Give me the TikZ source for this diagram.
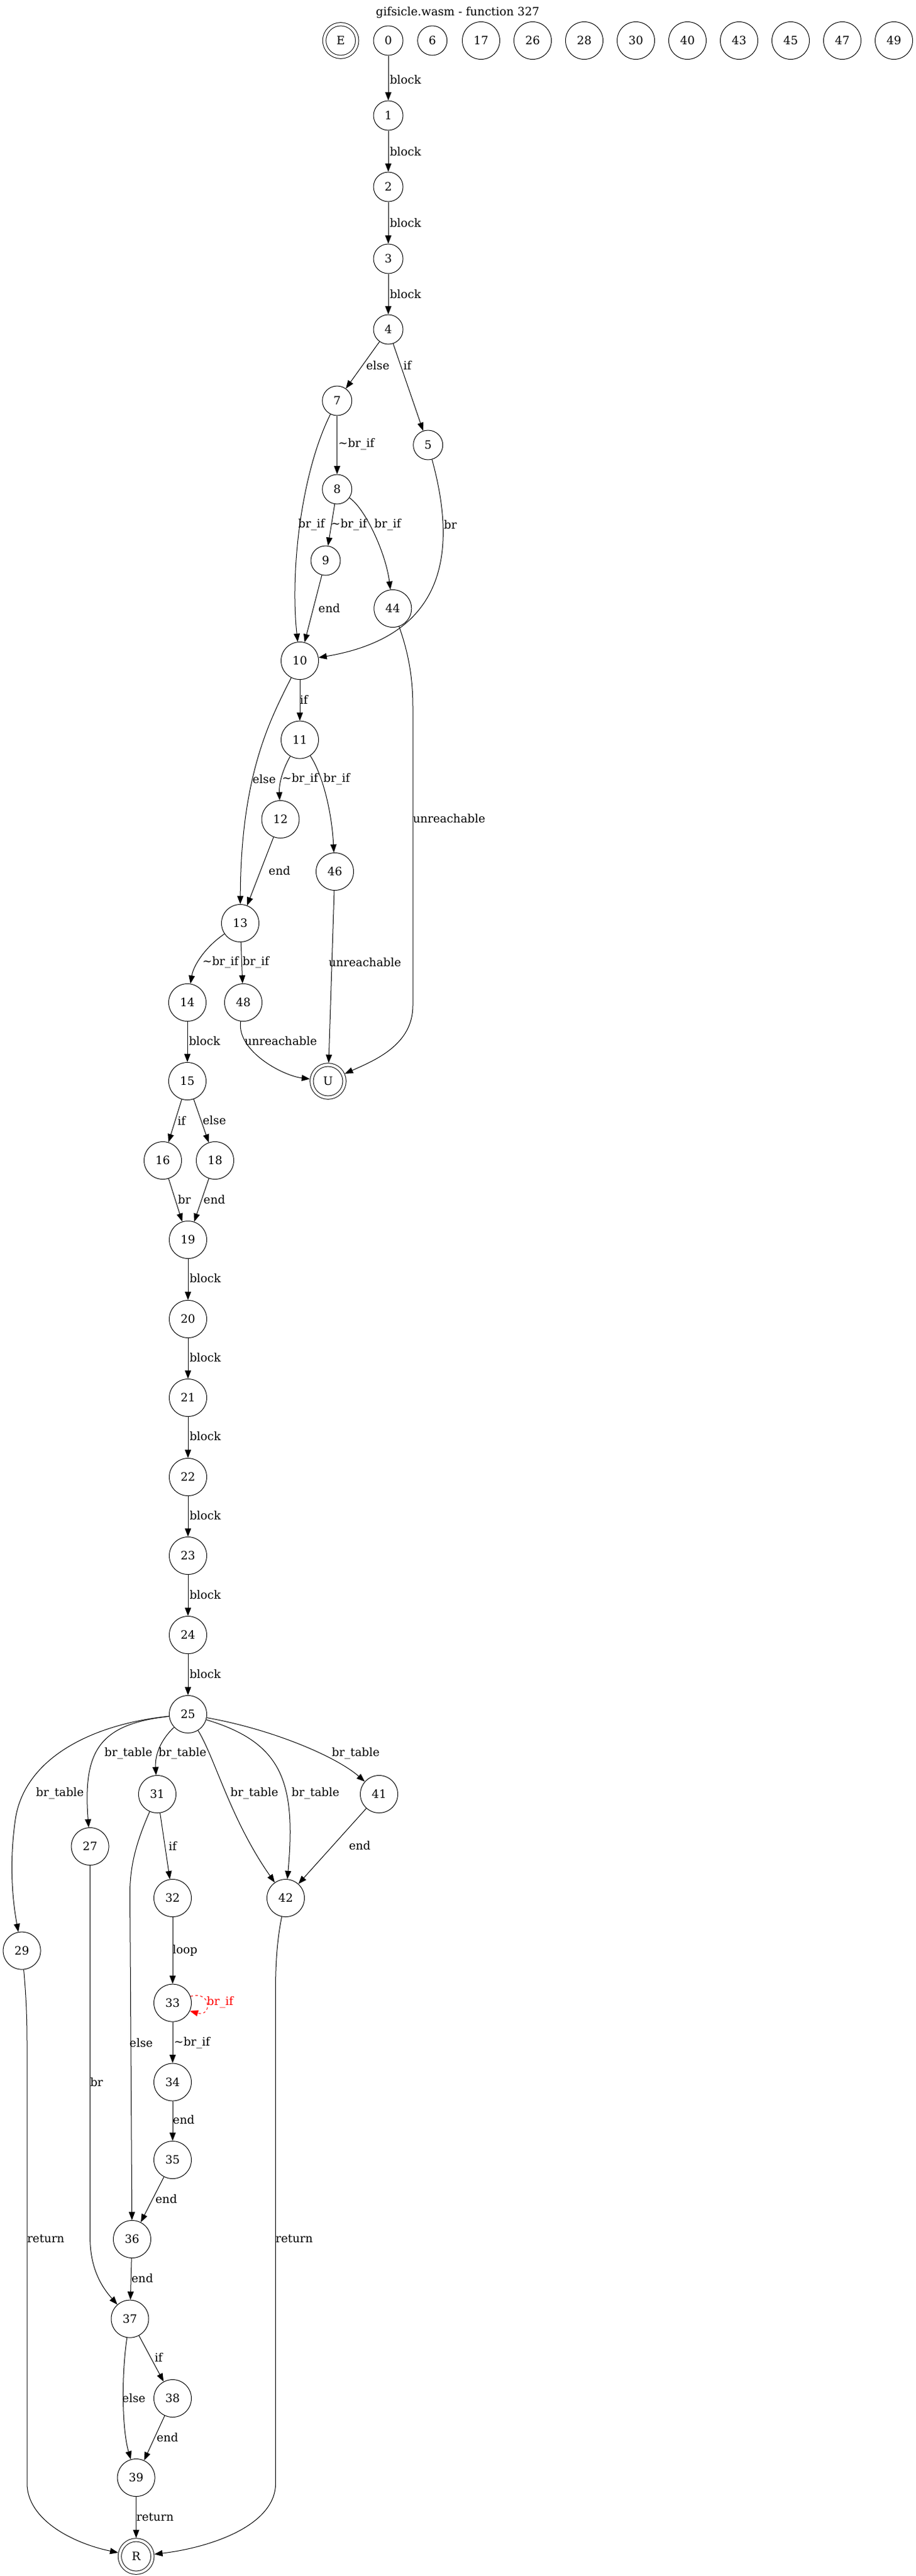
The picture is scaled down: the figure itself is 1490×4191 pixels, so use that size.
\documentclass[tikz,border=0pt]{standalone}
\usepackage{fontspec}
\setmainfont{DejaVu Serif}
\usetikzlibrary{arrows.meta}
\tikzset{
    bb/.style = {
        draw,
        shape=circle,
        minimum size=36pt,
        inner sep=0pt,
        line width=0.75pt,
        font=\fontsize{14}{17}\selectfont
    },
    bbw/.style = {
        bb,
        minimum size=45.75pt
    },
    term/.style = {
        bb,
        double,
        double distance=3.25pt,
        minimum size=40pt,
        outer sep=2.4pt
    },
    lbl/.style = {
        inner sep=0pt,
        font=\fontsize{14}{17}\selectfont
    },
    >={Triangle[length=10pt,width=7.5pt]},
}

\begin{document}
\begin{tikzpicture}[x=0.75pt, y=-0.75pt, line width=0.75pt]
            \path[fill=white, use as bounding box] (0,0) rectangle (1490,4191);
            \node[lbl] (title) at (745,20) {gifsicle.wasm - function 327};

            \node[term] (E) at (554.6,66) {E};
            \node[bb] (n0) at (632,66) {0};
            \node[bb] (n6) at (703.7,66) {6};
            \node[bbw] (n17) at (783,66) {17};
            \node[bbw] (n26) at (867,66) {26};
            \node[bbw] (n28) at (951,66) {28};
            \node[bbw] (n30) at (1035,66) {30};
            \node[bbw] (n40) at (1119,66) {40};
            \node[bbw] (n43) at (1203,66) {43};
            \node[bbw] (n45) at (1287,66) {45};
            \node[bbw] (n47) at (1371,66) {47};
            \node[bbw] (n49) at (1455,66) {49};

            \node[bb] (n1) at (632,188) {1};
            \node[bb] (n2) at (632,304) {2};
            \node[bb] (n3) at (632,421) {3};
            \node[bb] (n4) at (632,536) {4};
            \node[bb] (n7) at (548.7,652) {7};
            \node[bb] (n5) at (696.7,724) {5};
            \node[bb] (n8) at (548.7,796) {8};
            \node[bb] (n9) at (530,912) {9};
            \node[bbw] (n44) at (639.3,990) {44};
            \node[bbw] (n10) at (488,1075) {10};
            \node[bbw] (n11) at (488,1203.6) {11};
            \node[bbw] (n12) at (456.5,1333) {12};
            \node[bbw] (n46) at (545,1418) {46};
            \node[bbw] (n13) at (391,1502) {13};
            \node[bbw] (n14) at (305,1631) {14};
            \node[bbw] (n48) at (396,1631) {48};
            \node[term] (U) at (534,1759) {U};
            \node[bbw] (n15) at (305,1759) {15};
            \node[bbw] (n16) at (265,1888) {16};
            \node[bbw] (n18) at (350,1888) {18};
            \node[bbw] (n19) at (306,2017) {19};
            \node[bbw] (n20) at (306,2146) {20};
            \node[bbw] (n21) at (306,2274) {21};
            \node[bbw] (n22) at (306,2403) {22};
            \node[bbw] (n23) at (306,2531) {23};
            \node[bbw] (n24) at (306,2660) {24};
            \node[bbw] (n25) at (306,2789) {25};
            \node[bbw] (n31) at (256,2919) {31};
            \node[bbw] (n41) at (617,2919) {41};
            \node[bbw] (n27) at (146.6,3004) {27};
            \node[bbw] (n32) at (281,3088) {32};
            \node[bbw] (n42) at (465,3088) {42};
            \node[bbw] (n29) at (35.6,3173.6) {29};
            \node[bbw] (n33) at (281,3258.6) {33};
            \node[bbw] (n34) at (281,3387.5) {34};
            \node[bbw] (n35) at (281,3514) {35};
            \node[bbw] (n36) at (215,3643) {36};
            \node[bbw] (n37) at (211.5,3772.6) {37};
            \node[bbw] (n38) at (281,3902) {38};
            \node[bbw] (n39) at (221.6,4031) {39};
            \node[term] (R) at (221.6,4159) {R};

            \path[draw, ->] (n0) -- (n1);
            \path[draw, ->] (n1) -- (n2);
            \path[draw, ->] (n2) -- (n3);
            \path[draw, ->] (n3) -- (n4);
            \path[draw, ->] (n4) -- (n7);
            \path[draw, ->] (n4) -- (n5);
            \path[draw, ->] (n7) -- (n8);
            \path[draw, ->] (n7) .. controls (490,770) and (472,930) .. (n10);
            \path[draw, ->] (n8) -- (n9);
            \path[draw, ->] (n8) .. controls (595,828) and (628,900) .. (n44);
            \path[draw, ->] (n5) .. controls (745,900) and (725,1035) .. (n10);
            \path[draw, ->] (n9) -- (n10);
            \path[draw, ->] (n44) .. controls (664,1060) and (672,1100) ..
            (672,1150) -- (672,1636) .. controls (672,1700) and (610,1725) .. (U);
            \path[draw, ->] (n10) -- (n11);
            \path[draw, ->] (n10) .. controls (440,1170) and (392,1260) .. (n13);
            \path[draw, ->] (n11) .. controls (460,1252) and (454,1275) .. (n12);
            \path[draw, ->] (n11) .. controls (525,1260) and (540,1320) .. (n46);
            \path[draw, ->] (n12) -- (n13);
            \path[draw, ->] (n46) -- (U);
            \path[draw, ->] (n13) .. controls (335,1540) and (315,1570) .. (n14);
            \path[draw, ->] (n13) -- (n48);
            \path[draw, ->] (n48) .. controls (385,1710) and (460,1750) .. (U);
            \path[draw, ->] (n14) -- (n15);
            \path[draw, ->] (n15) -- (n16);
            \path[draw, ->] (n15) -- (n18);
            \path[draw, ->] (n16) -- (n19);
            \path[draw, ->] (n18) -- (n19);
            \path[draw, ->] (n19) -- (n20);
            \path[draw, ->] (n20) -- (n21);
            \path[draw, ->] (n21) -- (n22);
            \path[draw, ->] (n22) -- (n23);
            \path[draw, ->] (n23) -- (n24);
            \path[draw, ->] (n24) -- (n25);
            \path[draw, ->] (n25) .. controls (150,2805) and (40,2860) ..
            (25,2960) .. controls (15,3030) and (20,3090) .. (n29);
            \path[draw, ->] (n25) .. controls (160,2805) and (135,2850) .. (n27);
            \path[draw, ->] (n25) .. controls (262,2830) and (252,2855) .. (n31);
            \path[draw, ->] (n25) .. controls (350,2860) and (375,2960) .. (n42);
            \path[draw, ->] (n25) .. controls (460,2835) and (482,2900) .. (n42);
            \path[draw, ->] (n25) .. controls (450,2815) and (550,2860) .. (n41);
            \path[draw, ->] (n41) -- (n42);
            \path[draw, ->] (n31) -- (n32);
            \path[draw, ->] (n31) .. controls (225,2990) and (211.5,3030) ..
            (211.5,3080) -- (n36);
            \path[draw, ->] (n27) -- (146.6,3640) .. controls (146.6,3690) and
            (165,3720) .. (n37);
            \path[draw, ->] (n29) .. controls (42,3240) and (44,3280) ..
            (44,3320) -- (44,4040) .. controls (44,4100) and (120,4138) .. (R);
            \path[draw, ->] (n42) .. controls (452,3150) and (448.6,3190) ..
            (448.6,3230) -- (448.6,4040) .. controls (448.6,4110) and (340,4145) .. (R);
            \path[draw, ->] (n32) -- (n33);
            \path[draw, ->, dashed, color=red] (n33.20) .. controls (345,3238) and
            (345,3282) .. (n33.-25);
            \path[draw, ->] (n33) -- (n34);
            \path[draw, ->] (n34) -- (n35);
            \path[draw, ->] (n35) -- (n36);
            \path[draw, ->] (n36) -- (n37);
            \path[draw, ->] (n37) -- (n38);
            \path[draw, ->] (n37) .. controls (198,3860) and (198,3950) .. (n39);
            \path[draw, ->] (n38) -- (n39);
            \path[draw, ->] (n39) -- (R);

            % edge labels
            \node[lbl, anchor=west] (t0) at (634,130) {block};
            \node[lbl, anchor=west] (t1) at (634,246.5) {block};
            \node[lbl, anchor=west] (t2) at (634,363) {block};
            \node[lbl, anchor=west] (t3) at (634,479) {block};
            \node[lbl] (t4a) at (615,595) {else};
            \node[lbl] (t4b) at (663,594) {if};
            \node[lbl] (t7a) at (580,723) {\textasciitilde br\_if};
            \node[lbl] (t7b) at (507,854) {br\_if};
            \node[lbl] (t8a) at (568,854) {\textasciitilde br\_if};
            \node[lbl] (t8b) at (631,854) {br\_if};
            \node[lbl] (t5) at (733,854) {br};
            \node[lbl] (t9) at (536,990) {end};
            \node[lbl] (t44) at (731,1332) {unreachable};
            \node[lbl] (t10a) at (494.5,1138.5) {if};
            \node[lbl] (t10b) at (430,1268) {else};
            \node[lbl] (t11a) at (488.5,1268) {\textasciitilde br\_if};
            \node[lbl] (t11b) at (548,1268) {br\_if};
            \node[lbl] (t12) at (455,1417) {end};
            \node[lbl] (t46) at (594,1566) {unreachable};
            \node[lbl] (t13a) at (359,1566) {\textasciitilde br\_if};
            \node[lbl] (t13b) at (416.5,1566) {br\_if};
            \node[lbl] (t48) at (457,1694) {unreachable};
            \node[lbl, anchor=west] (t14) at (307,1694) {block};
            \node[lbl] (t15a) at (295.5,1823) {if};
            \node[lbl] (t15b) at (349,1823) {else};
            \node[lbl] (t16) at (300,1952) {br};
            \node[lbl] (t18) at (349,1952) {end};
            \node[lbl, anchor=west] (t19) at (308,2079.5) {block};
            \node[lbl, anchor=west] (t20) at (308,2208.7) {block};
            \node[lbl, anchor=west] (t21) at (308,2337) {block};
            \node[lbl, anchor=west] (t22) at (308,2466) {block};
            \node[lbl, anchor=west] (t23) at (308,2594.4) {block};
            \node[lbl, anchor=west] (t24) at (308,2724) {block};
            \node[lbl] (t25a) at (97.6,2918) {br\_table};
            \node[lbl] (t25b) at (209,2852.4) {br\_table};
            \node[lbl] (t25c) at (297,2852.4) {br\_table};
            \node[lbl] (t25d) at (414,2918) {br\_table};
            \node[lbl] (t25e) at (513.5,2918) {br\_table};
            \node[lbl] (t25f) at (579,2852.4) {br\_table};
            \node[lbl] (t41) at (585.6,3003) {end};
            \node[lbl] (t31a) at (281,3003) {if};
            \node[lbl] (t32) at (301,3173.6) {loop};
            \node[lbl] (t31b) at (229.8,3323.6) {else};
            \node[lbl] (t27) at (157.2,3387.5) {br};
            \node[lbl] (t33a) at (312.5,3323.6) {\textasciitilde br\_if};
            \node[lbl, color=red] (t33b) at (358.2,3257.7) {br\_if};
            \node[lbl] (t34) at (299,3448) {end};
            \node[lbl] (t35) at (270.7,3577.5) {end};
            \node[lbl] (t29) at (74.5,3642.3) {return};
            \node[lbl] (t42) at (478.9,3642.3) {return};
            \node[lbl] (t36) at (231.7,3706.7) {end};
            \node[lbl] (t37a) at (258.2,3835) {if};
            \node[lbl] (t37b) at (217.8,3901) {else};
            \node[lbl] (t38) at (272.6,3965) {end};
            \node[lbl] (t39) at (252.4,4095.6) {return};
        \end{tikzpicture}
\end{document}
